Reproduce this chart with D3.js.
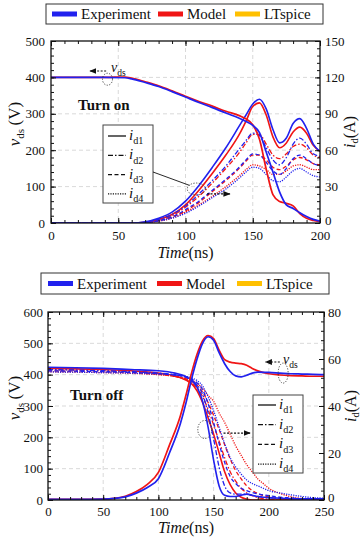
<!DOCTYPE html>
<html>
<head>
<meta charset="utf-8">
<script src="https://cdn.jsdelivr.net/npm/d3@7"></script>
<style>
  body { margin: 0; background: #fff; }
  svg text { font-family: "Liberation Serif", "Times New Roman", "DejaVu Serif", serif; }
</style>
</head>
<body>
<svg id="chart" width="363" height="543"></svg>
<script>
// ---------- Turn-on transient ----------
const onVdsTime = [0, 20, 40, 55, 60, 70, 80, 90, 100, 110, 120, 130, 140, 145, 150, 155, 160, 165, 170, 175, 180, 185, 190, 195, 200];
const onVdsExp   = [400, 400, 400, 399, 396, 386, 375, 361, 346, 331, 317, 302, 288, 279, 268, 248, 195, 140, 85, 50, 40, 28, 18, 10, 5];
const onVdsModel = [400, 400, 400, 401, 398, 388, 377, 363, 348, 334, 321, 307, 295, 286, 270, 230, 148, 78, 59, 54, 47, 26, 13, 7, 4];

const onIdTime = [0, 60, 70, 80, 90, 100, 110, 120, 130, 140, 145, 150, 155, 160, 165, 170, 175, 180, 185, 190, 195, 200];
const onId1Exp   = [0, 0, 1, 4, 9, 18, 31, 46, 62, 80, 89, 98, 102, 94, 77, 66, 70, 82, 86, 78, 65, 59];
const onId2Exp   = [0, 0, 0.5, 3, 7, 14, 24, 35, 47, 61, 68, 74, 72, 62, 52, 48, 54, 65, 70, 65, 57, 55];
const onId3Exp   = [0, 0, 0.3, 2, 5, 11, 18, 27, 36, 46, 52, 57, 56, 50, 43, 40, 45, 53, 56, 53, 49, 47];
const onId4Exp   = [0, 0, 0.3, 1.5, 4, 8, 14, 21, 28, 37, 42, 46, 45, 40, 35, 34, 38, 43, 45, 42, 39, 38];
const onId1Model = [0, 0, 0.5, 3, 7, 15, 27, 41, 56, 73, 84, 96, 99, 89, 71, 62, 66, 75, 79, 74, 64, 59];
const onId2Model = [0, 0, 0.3, 2, 6, 13, 22, 33, 45, 58, 66, 73, 73, 65, 56, 53, 57, 63, 65, 62, 56, 54];
const onId3Model = [0, 0, 0.2, 2, 5, 10, 17, 26, 35, 45, 51, 56, 56, 52, 46, 44, 47, 52, 54, 52, 49, 48];
const onId4Model = [0, 0, 0.2, 1.5, 4, 9, 15, 22, 30, 39, 44, 48, 47, 44, 40, 40, 43, 47, 48, 46, 44, 44];

// ---------- Turn-off transient ----------
const offVdsTime = [0, 25, 50, 60, 70, 80, 90, 100, 110, 120, 125, 130, 135, 140, 145, 150, 155, 160, 165, 170, 175, 180, 185, 190, 200, 210, 220, 230, 240, 250];
const offVdsExp   = [2, 2, 3, 5, 10, 22, 40, 68, 150, 245, 310, 385, 450, 500, 521, 510, 470, 435, 410, 396, 393, 398, 405, 408, 407, 405, 403, 402, 401, 400];
const offVdsModel = [2, 2, 3, 5, 12, 27, 50, 88, 175, 270, 335, 405, 465, 508, 525, 515, 478, 448, 440, 437, 435, 430, 420, 412, 403, 399, 397, 396, 395, 395];

const offIdTime = [0, 25, 50, 75, 100, 115, 125, 130, 135, 140, 145, 150, 155, 160, 165, 170, 175, 180, 185, 190, 195, 200, 210, 220, 230, 240, 250];
const offId1Exp   = [56.5, 56.3, 56, 55.5, 55, 54, 52.5, 51, 48, 42, 31, 17, 6, 2, 1.5, 1.5, 2, 2.5, 2, 1.5, 1.2, 1, 0.8, 0.5, 0.5, 0.5, 0.5];
const offId2Exp   = [55.5, 55.3, 55, 54.6, 54, 53.3, 52.2, 51, 49, 45, 37, 26, 14, 6, 3, 2.5, 2.5, 2.5, 2, 1.5, 1.2, 1, 0.8, 0.6, 0.5, 0.5, 0.5];
const offId3Exp   = [55, 54.8, 54.6, 54.3, 53.8, 53.2, 52.5, 51.5, 49.8, 47, 41, 33, 24, 16, 10, 7, 5, 4, 3.2, 2.6, 2.2, 1.8, 1.2, 0.9, 0.6, 0.5, 0.5];
const offId4Exp   = [54.5, 54.4, 54.2, 54, 53.6, 53.2, 52.6, 52, 50.8, 48.5, 44, 38, 31, 24, 18, 14, 11, 8.5, 7, 6, 5, 4, 3, 2.2, 1.5, 1, 0.8];
const offId1Model = [56, 55.8, 55.5, 55, 54, 52.8, 51, 49.5, 46.5, 41.5, 35, 28, 20, 12, 6.5, 3, 1.2, 0.4, 0, 0, 0, 0, 0, 0, 0, 0, 0];
const offId2Model = [55.5, 55.3, 55, 54.6, 53.8, 52.6, 51.2, 50, 47.8, 44, 38.5, 32, 25, 18, 12, 8, 5, 3, 1.8, 1, 0.6, 0.3, 0, 0, 0, 0, 0];
const offId3Model = [55, 54.8, 54.6, 54.2, 53.5, 52.6, 51.6, 50.6, 48.8, 46, 41.5, 36, 30, 23.5, 17.5, 12.5, 9, 6, 4, 2.8, 1.9, 1.2, 0.5, 0.1, 0, 0, 0];
const offId4Model = [54.5, 54.4, 54.2, 53.9, 53.3, 52.6, 51.8, 51, 49.8, 47.5, 44.5, 42, 37, 33, 28, 23, 19, 15, 12, 9, 7, 5, 2.8, 1.4, 0.6, 0.2, 0];

// ---------- Axis ticks and legend ----------
const onTimeTicks = [0, 50, 100, 150, 200];
const onVdsTicks = [0, 100, 200, 300, 400, 500];
const onIdTicks = [0, 30, 60, 90, 120, 150];
const offTimeTicks = [0, 50, 100, 150, 200, 250];
const offVdsTicks = [0, 100, 200, 300, 400, 500, 600];
const offIdTicks = [0, 20, 40, 60, 80];

const sourceNames = ["Experiment", "Model", "LTspice"];
const sourceColors = ["#2121ee", "#f01515", "#ffc000"];
const currentNames = ["d1", "d2", "d3", "d4"];
const currentDash = [null, "5,2,1.5,2", "4,2.5", "1.2,1.2"];

const svg = d3.select("#chart");

// dotted arrowhead marker
svg.append("defs").append("marker")
  .attr("id", "head").attr("viewBox", "0 0 10 10").attr("refX", 9).attr("refY", 5)
  .attr("markerWidth", 6).attr("markerHeight", 6).attr("orient", "auto")
  .append("path").attr("d", "M0,1 L10,5 L0,9 Z").attr("fill", "#111");

function subLabel(sel, x, y, main, sub, size, anchor) {
  const t = sel.append("text").attr("x", x).attr("y", y)
    .attr("font-size", size).attr("fill", "#111")
    .attr("text-anchor", anchor || "start");
  t.append("tspan").attr("font-style", "italic").text(main);
  t.append("tspan").attr("font-size", size * 0.68).attr("dy", size * 0.28).text(sub);
  return t;
}

function drawPanel(o) {
  const g = svg.append("g");
  const x = d3.scaleLinear().domain([0, o.tTicks[o.tTicks.length - 1]]).range([o.left, o.right]);
  const yV = d3.scaleLinear().domain([0, o.vTicks[o.vTicks.length - 1]]).range([o.bottom, o.top]);
  const yI = d3.scaleLinear().domain([0, o.iTicks[o.iTicks.length - 1]]).range([o.bottom, o.top]);

  // outer legend
  const lg = g.append("g");
  lg.append("rect").attr("x", o.legend.x).attr("y", o.legend.y)
    .attr("width", o.legend.w).attr("height", o.legend.h)
    .attr("fill", "#fff").attr("stroke", "#333").attr("stroke-width", 1);
  sourceNames.forEach((name, k) => {
    const sx = o.legend.items[k];
    lg.append("rect").attr("x", sx).attr("y", o.legend.y + o.legend.h / 2 - 2.5)
      .attr("width", 25).attr("height", 5).attr("fill", sourceColors[k]);
    lg.append("text").attr("x", sx + 29).attr("y", o.legend.y + o.legend.h / 2 + 5)
      .attr("font-size", 15).attr("fill", "#111").text(name);
  });

  // dashed grid
  g.append("g").selectAll("line").data(o.tTicks.slice(1, -1)).join("line")
    .attr("x1", d => x(d)).attr("x2", d => x(d)).attr("y1", o.top).attr("y2", o.bottom)
    .attr("stroke", "#cfcfcf").attr("stroke-width", 0.8).attr("stroke-dasharray", "4,3");
  g.append("g").selectAll("line").data(o.vTicks.slice(1, -1)).join("line")
    .attr("y1", d => yV(d)).attr("y2", d => yV(d)).attr("x1", o.left).attr("x2", o.right)
    .attr("stroke", "#cfcfcf").attr("stroke-width", 0.8).attr("stroke-dasharray", "4,3");

  const clipId = "clip" + o.id;
  g.append("clipPath").attr("id", clipId).append("rect")
    .attr("x", o.left).attr("y", o.top).attr("width", o.right - o.left).attr("height", o.bottom - o.top);
  const plot = g.append("g").attr("clip-path", `url(#${clipId})`);

  const lineV = d3.line().curve(d3.curveMonotoneX).x(d => x(d[0])).y(d => yV(d[1]));
  const lineI = d3.line().curve(d3.curveMonotoneX).x(d => x(d[0])).y(d => yI(d[1]));

  // drain currents (model under experiment)
  [1, 0].forEach(src => {
    o.currents[src].forEach((vals, k) => {
      plot.append("path").datum(d3.zip(o.iTime, vals)).attr("d", lineI)
        .attr("fill", "none").attr("stroke", sourceColors[src])
        .attr("stroke-width", k === 0 ? 1.6 : 1.3)
        .attr("stroke-dasharray", currentDash[k]);
    });
  });
  // drain-source voltages
  [1, 0].forEach(src => {
    plot.append("path").datum(d3.zip(o.vTime, o.vds[src])).attr("d", lineV)
      .attr("fill", "none").attr("stroke", sourceColors[src]).attr("stroke-width", 1.7);
  });

  // axes with inward ticks
  const fmt = d3.format("d");
  const minorT = d3.range(0, x.domain()[1] + 0.1, (o.tTicks[1] - o.tTicks[0]) / 5);
  const minorV = d3.range(0, yV.domain()[1] + 0.1, (o.vTicks[1] - o.vTicks[0]) / 5);
  const minorI = d3.range(0, yI.domain()[1] + 0.1, (o.iTicks[1] - o.iTicks[0]) / 5);
  function styleAxis(sel) {
    sel.select(".domain").remove();
    sel.attr("font-family", null).attr("font-size", 13);
    sel.selectAll("line").attr("stroke", "#111");
    sel.selectAll("text").attr("fill", "#111");
  }
  g.append("g").attr("transform", `translate(0,${o.bottom})`)
    .call(d3.axisBottom(x).tickValues(o.tTicks).tickSize(-5).tickPadding(o.padB).tickFormat(fmt)).call(styleAxis);
  g.append("g").attr("transform", `translate(0,${o.bottom})`)
    .call(d3.axisBottom(x).tickValues(minorT).tickSize(-3).tickFormat("")).call(styleAxis);
  g.append("g").attr("transform", `translate(0,${o.top})`)
    .call(d3.axisTop(x).tickValues(o.tTicks).tickSize(-5).tickFormat("")).call(styleAxis);
  g.append("g").attr("transform", `translate(0,${o.top})`)
    .call(d3.axisTop(x).tickValues(minorT).tickSize(-3).tickFormat("")).call(styleAxis);
  g.append("g").attr("transform", `translate(${o.left},0)`)
    .call(d3.axisLeft(yV).tickValues(o.vTicks).tickSize(-5).tickPadding(o.padL).tickFormat(fmt)).call(styleAxis);
  g.append("g").attr("transform", `translate(${o.left},0)`)
    .call(d3.axisLeft(yV).tickValues(minorV).tickSize(-3).tickFormat("")).call(styleAxis);
  const axR = g.append("g").attr("transform", `translate(${o.right},0)`)
    .call(d3.axisRight(yI).tickValues(o.iTicks).tickSize(-5).tickPadding(o.padR).tickFormat(fmt)).call(styleAxis);
  // lift the lowest right-hand label a little so it clears the time labels
  axR.selectAll(".tick text").filter(d => d === 0).attr("dy", "0.1em");
  g.append("g").attr("transform", `translate(${o.right},0)`)
    .call(d3.axisRight(yI).tickValues(minorI).tickSize(-3).tickFormat("")).call(styleAxis);

  g.append("rect").attr("x", o.left).attr("y", o.top)
    .attr("width", o.right - o.left).attr("height", o.bottom - o.top)
    .attr("fill", "none").attr("stroke", "#111").attr("stroke-width", 1.3);

  // axis titles
  const midY = (o.top + o.bottom) / 2;
  const tl = g.append("text").attr("transform", `translate(${o.yTitleL},${midY - 8}) rotate(-90)`)
    .attr("text-anchor", "middle").attr("font-size", 17).attr("fill", "#111");
  tl.append("tspan").attr("font-style", "italic").text("v");
  tl.append("tspan").attr("font-size", 11).attr("dy", 4).text("ds");
  tl.append("tspan").attr("dy", -4).text("\u2009(V)");
  const tr = g.append("text").attr("transform", `translate(${o.yTitleR},${midY}) rotate(-90)`)
    .attr("text-anchor", "middle").attr("font-size", 16).attr("fill", "#111");
  tr.append("tspan").attr("font-style", "italic").text("i");
  tr.append("tspan").attr("font-size", 10.5).attr("dy", 3).text("d");
  tr.append("tspan").attr("dy", -3).text("(A)");
  const tx = g.append("text").attr("x", (o.left + o.right) / 2).attr("y", o.bottom + o.xTitleDy)
    .attr("text-anchor", "middle").attr("font-size", 16).attr("fill", "#111");
  tx.append("tspan").attr("font-style", "italic").text("Time");
  tx.append("tspan").text("(ns)");

  // phase title
  g.append("text").attr("x", o.title.x).attr("y", o.title.y)
    .attr("font-size", 15).attr("font-weight", "bold").attr("fill", "#111")
    .text(o.title.text);

  // line-style legend
  const il = o.inner;
  g.append("rect").attr("x", il.x).attr("y", il.y).attr("width", il.w).attr("height", il.h)
    .attr("fill", "#fff").attr("stroke", "#444").attr("stroke-width", 1);
  currentNames.forEach((name, k) => {
    const yy = il.y + il.first + k * il.step;
    g.append("line").attr("x1", il.x + 5).attr("x2", il.x + 23).attr("y1", yy).attr("y2", yy)
      .attr("stroke", "#111").attr("stroke-width", 1.3).attr("stroke-dasharray", currentDash[k]);
    subLabel(g, il.x + 26, yy + 4, "i", name, 15);
  });

  // annotations
  o.notes(g, x, yV, yI);
  return g;
}

function dottedEllipse(g, cx, cy, rx, ry) {
  g.append("ellipse").attr("cx", cx).attr("cy", cy).attr("rx", rx).attr("ry", ry)
    .attr("fill", "none").attr("stroke", "#333").attr("stroke-width", 0.9).attr("stroke-dasharray", "1.2,1.5");
}
function dottedArrow(g, x1, y1, x2, y2) {
  g.append("line").attr("x1", x1).attr("y1", y1).attr("x2", x2).attr("y2", y2)
    .attr("stroke", "#111").attr("stroke-width", 1.2).attr("stroke-dasharray", "2,1.5")
    .attr("marker-end", "url(#head)");
}

drawPanel({
  id: "on", left: 51, right: 320, top: 41, bottom: 223,
  tTicks: onTimeTicks, vTicks: onVdsTicks, iTicks: onIdTicks,
  vTime: onVdsTime, vds: [onVdsExp, onVdsModel],
  iTime: onIdTime,
  currents: [[onId1Exp, onId2Exp, onId3Exp, onId4Exp], [onId1Model, onId2Model, onId3Model, onId4Model]],
  padL: 6, padR: 5, padB: 8, yTitleL: 20, yTitleR: 355, xTitleDy: 35,
  legend: { x: 46, y: 4, w: 277, h: 20, items: [52, 158, 235] },
  title: { x: 78, y: 110, text: "Turn on" },
  inner: { x: 103, y: 125, w: 50, h: 78, first: 11, step: 19.3 },
  notes: (g, x, yV, yI) => {
    dottedEllipse(g, x(42), yV(395), 5, 6);
    dottedArrow(g, x(41), 71, x(29), 71);
    subLabel(g, 111, 72, "v", "ds", 14);
    g.append("line").attr("x1", 153).attr("y1", 172).attr("x2", x(103)).attr("y2", yI(31))
      .attr("stroke", "#111").attr("stroke-width", 0.9);
    dottedEllipse(g, x(108), yI(28), 9, 6);
    dottedArrow(g, x(116), yI(24), x(133), yI(24));
  }
});

drawPanel({
  id: "off", left: 48, right: 324, top: 312, bottom: 500,
  tTicks: offTimeTicks, vTicks: offVdsTicks, iTicks: offIdTicks,
  vTime: offVdsTime, vds: [offVdsExp, offVdsModel],
  iTime: offIdTime,
  currents: [[offId1Exp, offId2Exp, offId3Exp, offId4Exp], [offId1Model, offId2Model, offId3Model, offId4Model]],
  padL: 5, padR: 4, padB: 7, yTitleL: 20, yTitleR: 356, xTitleDy: 33,
  legend: { x: 41, y: 273, w: 288, h: 21, items: [48, 157, 237] },
  title: { x: 70, y: 400, text: "Turn off" },
  inner: { x: 253, y: 395, w: 50, h: 78, first: 10, step: 19.7 },
  notes: (g, x, yV, yI) => {
    dottedEllipse(g, x(213), yV(405), 5, 10);
    dottedArrow(g, x(210), 362, x(197), 362);
    subLabel(g, 283, 364, "v", "ds", 14);
    dottedEllipse(g, x(142), yI(30), 7, 9);
    dottedArrow(g, x(159), yI(28.5), x(183), yI(28.5));
  }
});
</script>
</body>
</html>
